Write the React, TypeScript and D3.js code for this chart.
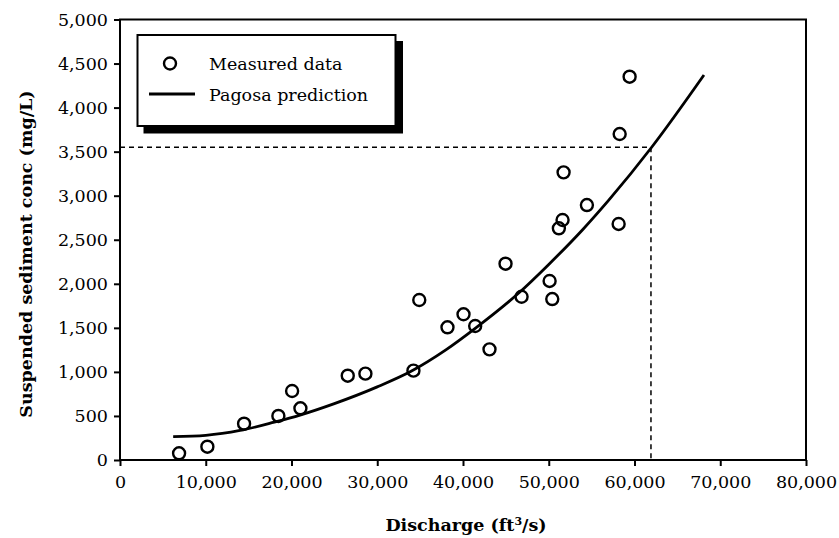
import React, { useEffect, useRef } from 'react';
import * as d3 from 'd3';

// discharge (ft3/s), suspended sediment (mg/L)
const measuredQ = [6890, 10190, 14470, 18470, 20070, 21040, 26560, 28620, 34220, 34900,
  38190, 40060, 41420, 43090, 44960, 46830, 50100, 50410, 51180, 51610, 51730, 54450,
  58150, 58270, 59430];
const measuredC = [76, 151, 412, 500, 783, 587, 957, 980, 1014, 1816,
  1506, 1654, 1521, 1256, 2228, 1853, 2032, 1827, 2630, 2724, 3265, 2894,
  2679, 3700, 4351];

// Pagosa prediction curve
const predQ = [6200, 10000, 14000, 18000, 21000, 25000, 30000, 34000, 38000, 41500, 46500, 50000, 54000, 57000, 62000, 68100];
const predC = [265, 280, 335, 430, 510, 640, 830, 1010, 1250, 1500, 1895, 2220, 2620, 2950, 3550, 4370];

const xTicks = [0, 10000, 20000, 30000, 40000, 50000, 60000, 70000, 80000];
const yTicks = [0, 500, 1000, 1500, 2000, 2500, 3000, 3500, 4000, 4500, 5000];

const refQ = 61920;
const refC = 3550;

const FONT = '"DejaVu Serif", serif';

const App: React.FC = () => {
  const svgRef = useRef<SVGSVGElement>(null);

  useEffect(() => {
    if (!svgRef.current) return;
    const svg = d3.select(svgRef.current);
    svg.selectAll('*').remove();

    const left = 120, right = 806, top = 19.5, bottom = 460;

    const x = d3.scaleLinear().domain([0, 80000]).range([left, right]);
    const y = d3.scaleLinear().domain([0, 5000]).range([bottom, top]);

    // dashed reference lines
    svg.append('line')
      .attr('x1', x(0)).attr('x2', x(refQ))
      .attr('y1', y(refC)).attr('y2', y(refC))
      .attr('stroke', '#000').attr('stroke-width', 1.5)
      .attr('stroke-dasharray', '5,4');
    svg.append('line')
      .attr('x1', x(refQ)).attr('x2', x(refQ))
      .attr('y1', y(refC)).attr('y2', y(0))
      .attr('stroke', '#000').attr('stroke-width', 1.5)
      .attr('stroke-dasharray', '5,4');

    // prediction curve
    const curve = predQ.map((q, i) => [q, predC[i]] as [number, number]);
    const line = d3.line<[number, number]>()
      .x(d => x(d[0]))
      .y(d => y(d[1]))
      .curve(d3.curveMonotoneX);
    svg.append('path')
      .datum(curve)
      .attr('d', line)
      .attr('fill', 'none')
      .attr('stroke', '#000')
      .attr('stroke-width', 2.8);

    // measured points
    svg.append('g')
      .selectAll('circle')
      .data(measuredQ.map((q, i) => [q, measuredC[i]]))
      .join('circle')
      .attr('cx', d => x(d[0]))
      .attr('cy', d => y(d[1]))
      .attr('r', 6)
      .attr('fill', 'none')
      .attr('stroke', '#000')
      .attr('stroke-width', 2.4);

    // frame
    svg.append('rect')
      .attr('x', left).attr('y', top)
      .attr('width', right - left).attr('height', bottom - top)
      .attr('fill', 'none')
      .attr('stroke', '#000')
      .attr('stroke-width', 2);

    // axes
    const xAxis = svg.append('g')
      .attr('transform', `translate(0,${bottom})`)
      .call(d3.axisBottom(x).tickValues(xTicks).tickFormat(d3.format(',')).tickSize(6).tickPadding(10));
    xAxis.select('.domain').remove();
    xAxis.selectAll('line').attr('stroke-width', 2);
    xAxis.selectAll('text')
      .attr('font-family', FONT)
      .attr('font-size', 17.5)
      .attr('fill', '#000');

    const yAxis = svg.append('g')
      .attr('transform', `translate(${left},0)`)
      .call(d3.axisLeft(y).tickValues(yTicks).tickFormat(d3.format(',')).tickSize(6).tickPadding(6));
    yAxis.select('.domain').remove();
    yAxis.selectAll('line').attr('stroke-width', 2);
    yAxis.selectAll('text')
      .attr('font-family', FONT)
      .attr('font-size', 17.5)
      .attr('fill', '#000');

    // axis titles
    const xt = svg.append('text')
      .attr('x', 466)
      .attr('y', 531)
      .attr('text-anchor', 'middle')
      .attr('font-family', FONT)
      .attr('font-weight', 'bold')
      .attr('font-size', 17.5);
    xt.append('tspan').text('Discharge (ft');
    xt.append('tspan').attr('font-size', 11).attr('dy', -6).text('3');
    xt.append('tspan').attr('dy', 6).text('/s)');

    svg.append('text')
      .attr('transform', `translate(32,254) rotate(-90)`)
      .attr('text-anchor', 'middle')
      .attr('font-family', FONT)
      .attr('font-weight', 'bold')
      .attr('font-size', 17.5)
      .text('Suspended sediment conc (mg/L)');

    // legend
    const lg = svg.append('g');
    lg.append('rect')
      .attr('x', 143.5).attr('y', 41)
      .attr('width', 259.5).attr('height', 92.5)
      .attr('fill', '#000');
    lg.append('rect')
      .attr('x', 137.5).attr('y', 35)
      .attr('width', 258).attr('height', 91)
      .attr('fill', '#fff')
      .attr('stroke', '#000')
      .attr('stroke-width', 2);
    lg.append('circle')
      .attr('cx', 170).attr('cy', 63.5).attr('r', 6)
      .attr('fill', 'none').attr('stroke', '#000').attr('stroke-width', 2.4);
    lg.append('line')
      .attr('x1', 149).attr('x2', 195)
      .attr('y1', 94).attr('y2', 94)
      .attr('stroke', '#000').attr('stroke-width', 2.8);
    lg.append('text')
      .attr('x', 209).attr('y', 70)
      .attr('font-family', FONT).attr('font-size', 17.5)
      .text('Measured data');
    lg.append('text')
      .attr('x', 209).attr('y', 101)
      .attr('font-family', FONT).attr('font-size', 17.5)
      .text('Pagosa prediction');
  }, []);

  return (
    <svg ref={svgRef} width={839} height={538}
      style={{ position: 'absolute', left: 0, top: 0, background: '#fff' }} />
  );
};

export default App;
